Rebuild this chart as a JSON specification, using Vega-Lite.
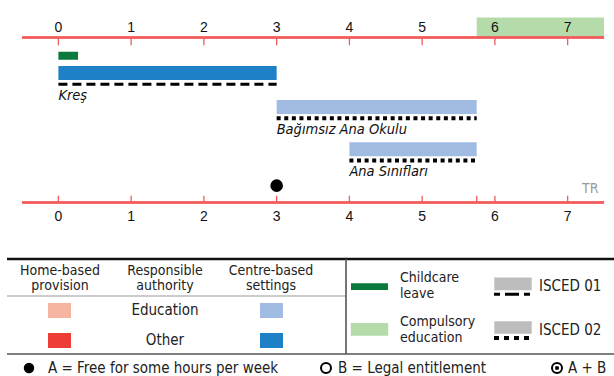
{
  "$schema": "https://vega.github.io/schema/vega-lite/v6.json",
  "padding": 0,
  "spacing": 0,
  "bounds": "flush",
  "background": "white",
  "config": {"view": {"stroke": null}, "font": "Liberation Sans Narrow, DejaVu Sans Condensed, Liberation Sans"},
  "datasets": {
    "ages": [{"age": 0}, {"age": 1}, {"age": 2}, {"age": 3}, {"age": 4}, {"age": 5}, {"age": 6}, {"age": 7}],
    "compulsory": [{"kind": "Compulsory education", "from": 5.75, "to": 7.5}],
    "settings": [
      {"setting": "Childcare leave", "kind": "Childcare leave", "isced": "", "from": 0, "to": 0.27, "lane": 5.3},
      {"setting": "Kreş", "kind": "Centre-based, Other", "isced": "ISCED 01", "from": 0, "to": 3, "lane": 7.1},
      {"setting": "Bağımsız Ana Okulu", "kind": "Centre-based, Education", "isced": "ISCED 02", "from": 3, "to": 5.75, "lane": 10.65},
      {"setting": "Ana Sınıfları", "kind": "Centre-based, Education", "isced": "ISCED 02", "from": 4, "to": 5.75, "lane": 15.05}
    ],
    "free": [{"type": "A", "age": 3}],
    "legendHeader": [
      {"label": "Home-based", "c": 6.0, "r": 3.05},
      {"label": "provision", "c": 6.0, "r": 4.55},
      {"label": "Responsible", "c": 16.5, "r": 3.05},
      {"label": "authority", "c": 16.5, "r": 4.55},
      {"label": "Centre-based", "c": 27.1, "r": 3.05},
      {"label": "settings", "c": 27.1, "r": 4.55},
      {"label": "Childcare", "c": 40.0, "r": 3.8, "left": true},
      {"label": "leave", "c": 40.0, "r": 5.35, "left": true},
      {"label": "Compulsory", "c": 40.0, "r": 8.2, "left": true},
      {"label": "education", "c": 40.0, "r": 9.75, "left": true}
    ],
    "legendCenter": [
      {"label": "Education", "c": 16.5, "r": 7.0},
      {"label": "Other", "c": 16.5, "r": 9.95}
    ],
    "legendLeft": [
      {"label": "ISCED 01", "c": 53.9, "r": 4.6},
      {"label": "ISCED 02", "c": 53.9, "r": 9.0},
      {"label": "A = Free for some hours per week", "c": 4.8, "r": 12.8},
      {"label": "B = Legal entitlement", "c": 33.8, "r": 12.8},
      {"label": "A + B", "c": 56.8, "r": 12.8}
    ],
    "legendSwatch": [
      {"kind": "Home-based, Education", "c": 5.95, "r": 7.05},
      {"kind": "Centre-based, Education", "c": 27.15, "r": 7.05},
      {"kind": "Home-based, Other", "c": 5.95, "r": 10.05},
      {"kind": "Centre-based, Other", "c": 27.15, "r": 10.05}
    ],
    "legendWide": [
      {"kind": "Compulsory education", "c": 36.95, "r": 8.93},
      {"kind": "ISCED", "c": 51.3, "r": 4.39},
      {"kind": "ISCED", "c": 51.3, "r": 8.75}
    ],
    "legendLeave": [{"kind": "Childcare leave", "c": 36.95, "r": 4.67}],
    "legendIsced": [
      {"isced": "ISCED 01", "c1": 49.4, "c2": 53.2, "r": 5.43},
      {"isced": "ISCED 02", "c1": 49.4, "c2": 53.2, "r": 9.8}
    ],
    "legendFrame": [
      {"line": "top", "c1": 0.7, "c2": 61.4, "r1": 1.9, "r2": 1.9},
      {"line": "header", "c1": 0.7, "c2": 34.6, "r1": 5.6, "r2": 5.6},
      {"line": "bottom", "c1": 0.7, "c2": 61.4, "r1": 11.4, "r2": 11.4},
      {"line": "divider", "c1": 34.6, "c2": 34.6, "r1": 1.9, "r2": 11.4}
    ],
    "legendMarks": [
      {"type": "A", "c": 2.9, "r": 12.8},
      {"type": "B", "c": 32.6, "r": 12.8},
      {"type": "A + B", "c": 55.7, "r": 12.8}
    ]
  },
  "vconcat": [
    {
      "width": 614,
      "height": 240,
      "layer": [
        {
          "data": {"name": "compulsory"},
          "mark": {"type": "rect"},
          "encoding": {
            "x": {"field": "from", "type": "quantitative", "scale": {"domain": [-0.8027, 7.637], "nice": false, "zero": false}, "axis": null},
            "x2": {"field": "to"},
            "y": {"datum": 1.3, "type": "quantitative", "scale": {"domain": [0, 24], "reverse": true, "nice": false, "zero": false}, "axis": null},
            "y2": {"datum": 3.4},
            "color": {"field": "kind", "type": "nominal", "legend": null,
              "scale": {"domain": ["Childcare leave", "Compulsory education", "Home-based, Education", "Home-based, Other", "Centre-based, Education", "Centre-based, Other", "ISCED"],
                        "range": ["#0a7a3c", "#b5dbab", "#f5b5a0", "#ee3d36", "#a1bce3", "#1e81c8", "#bdbdbd"]}}
          }
        },
        {
          "data": {"name": "ages"},
          "mark": {"type": "rule", "color": "#f25c5c", "strokeWidth": 1.5},
          "encoding": {
            "x": {"datum": -0.5, "type": "quantitative"},
            "x2": {"datum": 7.5},
            "y": {"datum": 3.4, "type": "quantitative"}
          }
        },
        {
          "data": {"name": "ages"},
          "mark": {"type": "rule", "color": "#f25c5c", "strokeWidth": 1.5},
          "encoding": {
            "x": {"datum": -0.5, "type": "quantitative"},
            "x2": {"datum": 7.5},
            "y": {"datum": 20.6, "type": "quantitative"}
          }
        },
        {
          "data": {"name": "ages"},
          "mark": {"type": "rule", "color": "#f25c5c", "strokeWidth": 1.3},
          "encoding": {
            "x": {"field": "age", "type": "quantitative"},
            "y": {"datum": 3.4, "type": "quantitative"},
            "y2": {"datum": 4.2}
          }
        },
        {
          "data": {"values": [{"age": 0}, {"age": 1}, {"age": 2}, {"age": 3}, {"age": 4}, {"age": 5}, {"age": 5.75}, {"age": 6}, {"age": 7}]},
          "mark": {"type": "rule", "color": "#f25c5c", "strokeWidth": 1.3},
          "encoding": {
            "x": {"field": "age", "type": "quantitative"},
            "y": {"datum": 19.9, "type": "quantitative"},
            "y2": {"datum": 20.6}
          }
        },
        {
          "data": {"name": "ages"},
          "mark": {"type": "text", "fontSize": 14, "color": "#111", "baseline": "middle", "font": "Liberation Sans"},
          "encoding": {
            "x": {"field": "age", "type": "quantitative"},
            "y": {"datum": 2.45, "type": "quantitative"},
            "text": {"field": "age", "type": "quantitative"}
          }
        },
        {
          "data": {"name": "ages"},
          "mark": {"type": "text", "fontSize": 14, "color": "#111", "baseline": "middle", "font": "Liberation Sans"},
          "encoding": {
            "x": {"field": "age", "type": "quantitative"},
            "y": {"datum": 22.15, "type": "quantitative"},
            "text": {"field": "age", "type": "quantitative"}
          }
        },
        {
          "data": {"name": "settings"},
          "transform": [{"filter": "datum.kind === 'Childcare leave'"}],
          "mark": {"type": "bar", "size": 8, "orient": "horizontal"},
          "encoding": {
            "x": {"field": "from", "type": "quantitative"},
            "x2": {"field": "to"},
            "y": {"field": "lane", "type": "quantitative"},
            "color": {"field": "kind", "type": "nominal", "legend": null}
          }
        },
        {
          "data": {"name": "settings"},
          "transform": [{"filter": "datum.kind !== 'Childcare leave'"}],
          "mark": {"type": "bar", "size": 14, "orient": "horizontal"},
          "encoding": {
            "x": {"field": "from", "type": "quantitative"},
            "x2": {"field": "to"},
            "y": {"field": "lane", "type": "quantitative"},
            "color": {"field": "kind", "type": "nominal", "legend": null}
          }
        },
        {
          "data": {"name": "settings"},
          "transform": [{"filter": "datum.isced === 'ISCED 01'"}],
          "mark": {"type": "rule", "color": "#000", "strokeWidth": 3, "strokeDash": [9, 5], "yOffset": 11.3},
          "encoding": {
            "x": {"field": "from", "type": "quantitative"},
            "x2": {"field": "to"},
            "y": {"field": "lane", "type": "quantitative"}
          }
        },
        {
          "data": {"name": "settings"},
          "transform": [{"filter": "datum.isced === 'ISCED 02'"}],
          "mark": {"type": "rule", "color": "#000", "strokeWidth": 4, "strokeDash": [4, 3.6], "yOffset": 11.3},
          "encoding": {
            "x": {"field": "from", "type": "quantitative"},
            "x2": {"field": "to"},
            "y": {"field": "lane", "type": "quantitative"}
          }
        },
        {
          "data": {"name": "settings"},
          "transform": [{"filter": "datum.isced !== ''"}],
          "mark": {"type": "text", "fontSize": 14.5, "fontStyle": "italic", "align": "left", "baseline": "middle", "color": "#111", "yOffset": 23},
          "encoding": {
            "x": {"field": "from", "type": "quantitative"},
            "y": {"field": "lane", "type": "quantitative"},
            "text": {"field": "setting", "type": "nominal"}
          }
        },
        {
          "data": {"name": "free"},
          "mark": {"type": "point", "filled": true, "color": "#000", "size": 160, "opacity": 1},
          "encoding": {
            "x": {"field": "age", "type": "quantitative"},
            "y": {"datum": 18.85, "type": "quantitative"}
          }
        },
        {
          "data": {"values": [{"country": "TR"}]},
          "mark": {"type": "text", "fontSize": 14, "color": "#9a9a9a", "baseline": "middle"},
          "encoding": {
            "x": {"datum": 7.31, "type": "quantitative"},
            "y": {"datum": 19.15, "type": "quantitative"},
            "text": {"field": "country", "type": "nominal"}
          }
        }
      ]
    },
    {
      "width": 614,
      "height": 136,
      "layer": [
        {
          "data": {"name": "legendFrame"},
          "transform": [{"filter": "datum.line === 'top'"}],
          "mark": {"type": "rule", "color": "#111", "strokeWidth": 2.5},
          "encoding": {
            "x": {"field": "c1", "type": "quantitative", "scale": {"domain": [0, 61.4], "nice": false, "zero": false}, "axis": null},
            "x2": {"field": "c2"},
            "y": {"field": "r1", "type": "quantitative", "scale": {"domain": [0, 13.6], "reverse": true, "nice": false, "zero": false}, "axis": null},
            "y2": {"field": "r2"}
          }
        },
        {
          "data": {"name": "legendFrame"},
          "transform": [{"filter": "datum.line === 'header'"}],
          "mark": {"type": "rule", "color": "#9a9a9a", "strokeWidth": 1.2},
          "encoding": {
            "x": {"field": "c1", "type": "quantitative"},
            "x2": {"field": "c2"},
            "y": {"field": "r1", "type": "quantitative"},
            "y2": {"field": "r2"}
          }
        },
        {
          "data": {"name": "legendFrame"},
          "transform": [{"filter": "datum.line === 'bottom' || datum.line === 'divider'"}],
          "mark": {"type": "rule", "color": "#555", "strokeWidth": 1.6},
          "encoding": {
            "x": {"field": "c1", "type": "quantitative"},
            "x2": {"field": "c2"},
            "y": {"field": "r1", "type": "quantitative"},
            "y2": {"field": "r2"}
          }
        },
        {
          "data": {"name": "legendSwatch"},
          "mark": {"type": "point", "filled": true, "opacity": 1, "size": 529, "shape": "M-1,-0.652H1V0.652H-1Z"},
          "encoding": {
            "x": {"field": "c", "type": "quantitative"},
            "y": {"field": "r", "type": "quantitative"},
            "color": {"field": "kind", "type": "nominal", "legend": null,
              "scale": {"domain": ["Childcare leave", "Compulsory education", "Home-based, Education", "Home-based, Other", "Centre-based, Education", "Centre-based, Other", "ISCED"],
                        "range": ["#0a7a3c", "#b5dbab", "#f5b5a0", "#ee3d36", "#a1bce3", "#1e81c8", "#bdbdbd"]}}
          }
        },
        {
          "data": {"name": "legendWide"},
          "mark": {"type": "point", "filled": true, "opacity": 1, "size": 1400, "shape": "M-1,-0.34H1V0.34H-1Z"},
          "encoding": {
            "x": {"field": "c", "type": "quantitative"},
            "y": {"field": "r", "type": "quantitative"},
            "color": {"field": "kind", "type": "nominal", "legend": null}
          }
        },
        {
          "data": {"name": "legendLeave"},
          "mark": {"type": "point", "filled": true, "opacity": 1, "size": 1369, "shape": "M-1,-0.18H1V0.18H-1Z"},
          "encoding": {
            "x": {"field": "c", "type": "quantitative"},
            "y": {"field": "r", "type": "quantitative"},
            "color": {"field": "kind", "type": "nominal", "legend": null}
          }
        },
        {
          "data": {"name": "legendIsced"},
          "transform": [{"filter": "datum.isced === 'ISCED 01'"}],
          "mark": {"type": "rule", "color": "#000", "strokeWidth": 3, "strokeDash": [6, 5, 14, 5]},
          "encoding": {
            "x": {"field": "c1", "type": "quantitative"},
            "x2": {"field": "c2"},
            "y": {"field": "r", "type": "quantitative"}
          }
        },
        {
          "data": {"name": "legendIsced"},
          "transform": [{"filter": "datum.isced === 'ISCED 02'"}],
          "mark": {"type": "rule", "color": "#000", "strokeWidth": 4, "strokeDash": [5, 5]},
          "encoding": {
            "x": {"field": "c1", "type": "quantitative"},
            "x2": {"field": "c2"},
            "y": {"field": "r", "type": "quantitative"}
          }
        },
        {
          "data": {"name": "legendHeader"},
          "transform": [{"filter": "!datum.left"}],
          "mark": {"type": "text", "fontSize": 14, "color": "#222", "align": "center", "baseline": "middle"},
          "encoding": {
            "x": {"field": "c", "type": "quantitative"},
            "y": {"field": "r", "type": "quantitative"},
            "text": {"field": "label", "type": "nominal"}
          }
        },
        {
          "data": {"name": "legendHeader"},
          "transform": [{"filter": "datum.left"}],
          "mark": {"type": "text", "fontSize": 14, "color": "#222", "align": "left", "baseline": "middle"},
          "encoding": {
            "x": {"field": "c", "type": "quantitative"},
            "y": {"field": "r", "type": "quantitative"},
            "text": {"field": "label", "type": "nominal"}
          }
        },
        {
          "data": {"name": "legendCenter"},
          "mark": {"type": "text", "fontSize": 15, "color": "#222", "align": "center", "baseline": "middle"},
          "encoding": {
            "x": {"field": "c", "type": "quantitative"},
            "y": {"field": "r", "type": "quantitative"},
            "text": {"field": "label", "type": "nominal"}
          }
        },
        {
          "data": {"name": "legendLeft"},
          "mark": {"type": "text", "fontSize": 15, "color": "#222", "align": "left", "baseline": "middle"},
          "encoding": {
            "x": {"field": "c", "type": "quantitative"},
            "y": {"field": "r", "type": "quantitative"},
            "text": {"field": "label", "type": "nominal"}
          }
        },
        {
          "data": {"name": "legendMarks"},
          "transform": [{"filter": "datum.type === 'A'"}],
          "mark": {"type": "point", "filled": true, "color": "#000", "size": 110, "opacity": 1},
          "encoding": {
            "x": {"field": "c", "type": "quantitative"},
            "y": {"field": "r", "type": "quantitative"}
          }
        },
        {
          "data": {"name": "legendMarks"},
          "transform": [{"filter": "datum.type !== 'A'"}],
          "mark": {"type": "point", "filled": false, "color": "#000", "size": 100, "strokeWidth": 2, "opacity": 1},
          "encoding": {
            "x": {"field": "c", "type": "quantitative"},
            "y": {"field": "r", "type": "quantitative"}
          }
        },
        {
          "data": {"name": "legendMarks"},
          "transform": [{"filter": "datum.type === 'A + B'"}],
          "mark": {"type": "point", "filled": true, "color": "#000", "size": 18, "opacity": 1},
          "encoding": {
            "x": {"field": "c", "type": "quantitative"},
            "y": {"field": "r", "type": "quantitative"}
          }
        }
      ]
    }
  ]
}
